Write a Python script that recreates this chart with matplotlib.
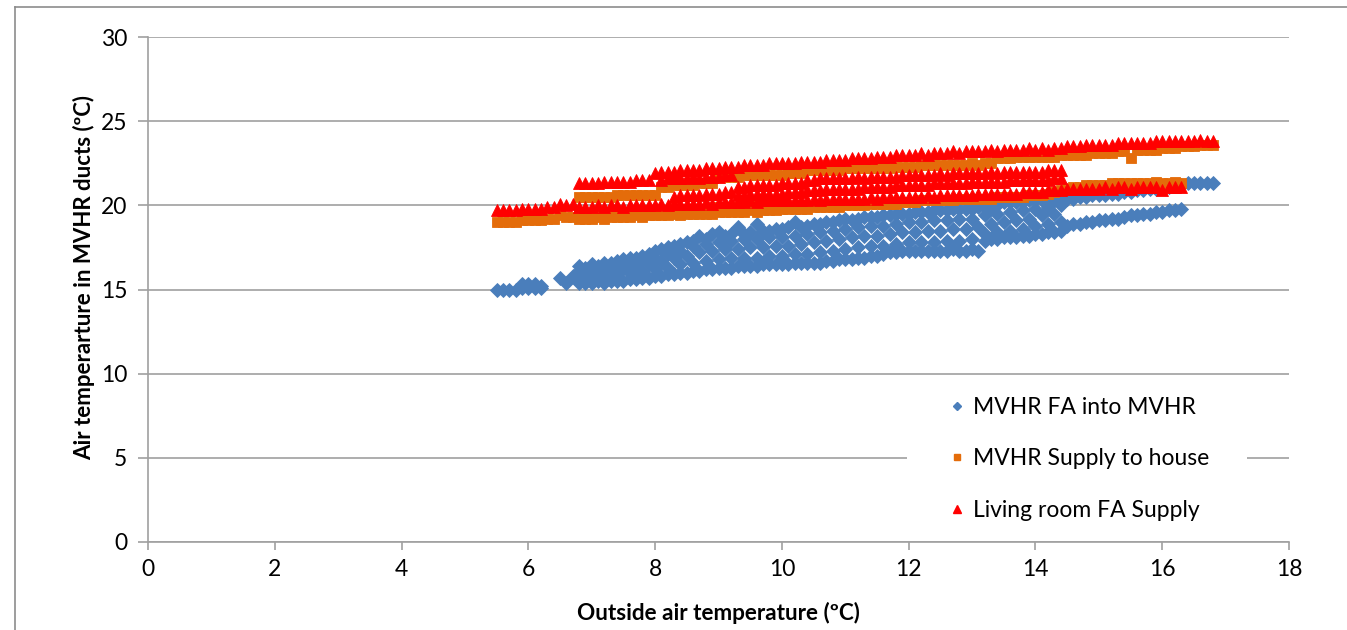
import matplotlib
matplotlib.use("Agg")
import matplotlib.pyplot as plt
from matplotlib.lines import Line2D
from matplotlib.patches import Rectangle

plt.rcParams['font.family'] = ['Lato', 'DejaVu Sans']

# ---------------- data ----------------
# outside air temperature columns, 0.1 degC logging resolution
outside_lo = [5.5, 5.6, 5.7, 5.8, 5.9, 6.0, 6.1, 6.2, 6.3, 6.4, 6.5, 6.6, 6.7]
outside_main = [6.8, 6.9, 7.0, 7.1, 7.2, 7.3, 7.4, 7.5, 7.6, 7.7,
                7.8, 7.9, 8.0, 8.1, 8.2, 8.3, 8.4, 8.5, 8.6, 8.7,
                8.8, 8.9, 9.0, 9.1, 9.2, 9.3, 9.4, 9.5, 9.6, 9.7,
                9.8, 9.9, 10.0, 10.1, 10.2, 10.3, 10.4, 10.5, 10.6, 10.7,
                10.8, 10.9, 11.0, 11.1, 11.2, 11.3, 11.4, 11.5, 11.6, 11.7,
                11.8, 11.9, 12.0, 12.1, 12.2, 12.3, 12.4, 12.5, 12.6, 12.7,
                12.8, 12.9, 13.0, 13.1, 13.2, 13.3, 13.4, 13.5, 13.6, 13.7,
                13.8, 13.9, 14.0, 14.1, 14.2, 14.3, 14.4, 14.5, 14.6, 14.7,
                14.8, 14.9, 15.0, 15.1, 15.2, 15.3, 15.4, 15.5, 15.6, 15.7,
                15.8, 15.9, 16.0, 16.1, 16.2, 16.3, 16.4, 16.5, 16.6, 16.7,
                16.8]

# --- MVHR FA into MVHR (blue) ---
fa_lo_x = [5.5, 5.6, 5.7, 5.8, 5.9, 6.0, 6.1, 6.2, 5.9, 6.0, 6.1, 6.2, 6.5, 6.6, 6.7]
fa_lo_y = [15.0, 15.0, 15.0, 15.0, 15.1, 15.1, 15.1, 15.1, 15.3, 15.3, 15.3, 15.2, 15.7, 15.4, 15.8]
fa_bottom = [15.4, 15.4, 15.4, 15.5, 15.4, 15.5, 15.5, 15.5, 15.6, 15.6,
             15.7, 15.7, 15.8, 15.8, 15.9, 15.9, 16.0, 16.0, 16.1, 16.1,
             16.2, 16.2, 16.3, 16.3, 16.3, 16.4, 16.4, 16.4, 16.4, 16.5,
             16.5, 16.5, 16.5, 16.5, 16.6, 16.6, 16.6, 16.6, 16.6, 16.7,
             16.7, 16.8, 16.8, 16.8, 16.9, 16.9, 17.0, 17.0, 17.1, 17.2,
             17.2, 17.3, 17.3, 17.3, 17.3, 17.3, 17.3, 17.3, 17.3, 17.4,
             17.3, 17.3, 17.4, 17.3, 17.9, 18.0, 18.0, 18.1, 18.1, 18.1,
             18.2, 18.2, 18.3, 18.3, 18.4, 18.4, 18.5, 18.8, 18.9, 18.9,
             19.0, 19.0, 19.1, 19.1, 19.2, 19.2, 19.3, 19.4, 19.4, 19.5,
             19.5, 19.6, 19.6, 19.7, 19.7, 19.8]
fa_top = [16.4, 16.3, 16.5, 16.4, 16.6, 16.6, 16.7, 16.8, 16.9, 16.9,
          17.0, 17.1, 17.3, 17.4, 17.5, 17.6, 17.7, 17.8, 17.9, 18.2,
          18.0, 18.3, 18.4, 18.2, 18.3, 18.7, 18.3, 18.4, 18.9, 18.5,
          18.5, 18.6, 18.6, 18.7, 19.0, 18.7, 18.8, 18.9, 18.9, 19.0,
          19.0, 19.1, 19.2, 19.1, 19.2, 19.3, 19.3, 19.3, 19.4, 19.4,
          19.5, 19.5, 19.5, 19.6, 19.6, 19.6, 19.7, 19.7, 19.7, 19.8,
          19.8, 19.8, 19.8, 19.9, 19.9, 19.9, 20.0, 20.2, 20.2, 20.2,
          20.2, 20.3, 20.3, 20.3, 20.3, 20.3, 20.3, 20.4, 20.4, 20.5,
          20.5, 20.6, 20.6, 20.6, 20.7, 20.7, 20.8, 20.8, 20.9, 20.9,
          21.0, 21.0, 21.1, 21.1, 21.2, 21.2, 21.3, 21.3, 21.3, 21.3, 21.3]
fa_row2 = [15.7, 15.8, 15.8, 15.9, 16.0, 16.1, 16.2, 16.3, 16.5, 16.6,
           16.7, 16.8, 16.9, 16.9, 16.9, 17.0, 17.0, 17.1, 17.1, 17.2,
           17.3, 17.4, 17.5, 17.6, 17.6, 17.7, 17.8, 17.8, 17.8, 17.9,
           17.9, 18.0, 18.3, 18.4, 18.5, 18.6, 18.8, 18.9, 19.0]
fa_row3 = [16.0, 16.1, 16.2, 16.3, 16.4, 16.5, 16.7, 16.9, 17.0, 17.2,
           17.3, 17.4, 17.4, 17.5, 17.5, 17.6, 17.6, 17.7, 17.8, 17.9,
           18.0, 18.1, 18.2, 18.2, 18.3, 18.4, 18.4, 18.5, 18.5, 18.6,
           18.6, 18.7, 18.9, 19.0, 19.1, 19.2, 19.4, 19.5]
fa_row4 = [16.1, 16.2, 16.3, 16.5, 16.6, 16.8, 16.9, 17.1, 17.3, 17.6,
           17.7, 17.8, 17.9, 18.0, 18.0, 18.1, 18.1, 18.2, 18.3, 18.4,
           18.5, 18.6, 18.7, 18.8, 18.8, 18.9, 19.0, 19.0, 19.1, 19.1,
           19.2, 19.2, 19.4, 19.5, 19.6, 19.7, 19.8, 19.9, 20.0]

# --- MVHR Supply to house (orange) ---
sup_lo = [19.0, 19.0, 19.0, 19.0, 19.1, 19.1, 19.1, 19.1, 19.2, 19.2, 19.4, 19.3, 19.3]
sup_upper = [20.5, 20.5, 20.5, 20.5, 20.5, 20.5, 20.6, 20.6, 20.6, 20.6,
             20.6, 20.6, 20.6, 21.1, 21.1, 21.2, 21.2, 21.2, 21.2, 21.3,
             21.3, 21.3, 21.7, 21.7, 21.7, 21.7, 21.8, 21.8, 21.8, 21.8,
             21.8, 21.8, 21.8, 21.9, 21.9, 21.9, 22.1, 22.1, 22.1, 22.1,
             22.1, 22.1, 22.2, 22.2, 22.2, 22.2, 22.2, 22.2, 22.2, 22.2,
             22.3, 22.3, 22.3, 22.3, 22.4, 22.4, 22.4, 22.4, 22.4, 22.4,
             22.4, 22.4, 22.5, 22.4, 22.5, 22.5, 22.8, 22.8, 22.8, 22.9,
             22.9, 22.9, 22.9, 22.9, 22.9, 22.9, 23.0, 23.0, 23.0, 23.0,
             23.0, 23.1, 23.1, 23.1, 23.1, 23.2, 23.2, 22.8, 23.3, 23.3,
             23.3, 23.3, 23.4, 23.4, 23.4, 23.5, 23.5, 23.5, 23.6, 23.6, 23.6]
sup_lower = [19.2, 19.2, 19.2, 19.3, 19.2, 19.3, 19.3, 19.3, 19.3, 19.4,
             19.3, 19.4, 19.4, 19.4, 19.4, 19.5, 19.4, 19.5, 19.5, 19.5,
             19.5, 19.5, 19.6, 19.6, 19.6, 19.6, 19.6, 19.7, 19.6, 19.7,
             19.7, 19.7, 19.8, 19.8, 19.8, 19.8, 19.8, 19.9, 19.9, 19.9,
             19.9, 19.9, 20.0, 20.0, 20.0, 20.0, 20.1, 20.1, 20.1, 20.1,
             20.1, 20.2, 20.2, 20.2, 20.3, 20.3, 20.3, 20.3, 20.3, 20.3,
             20.4, 20.4, 20.4, 20.4, 20.4, 20.4, 20.5, 20.5, 20.5, 20.5,
             20.5, 20.6, 20.6, 20.6, 20.7, 20.8, 20.9, 21.0, 21.1, 21.1,
             21.2, 21.2, 21.2, 21.2, 21.3, 21.3, 21.3, 21.3, 21.3, 21.3,
             21.3, 21.4, 21.3, 21.3, 21.4, 21.3]
sup_lower2 = [19.5, 19.5, 19.5, 19.6, 19.5, 19.6, 19.6, 19.6, 19.6, 19.7,
              19.6, 19.7, 19.7, 19.7, 19.7, 19.8, 19.7, 19.8, 19.8, 19.8,
              19.8, 19.8, 19.9, 19.9, 19.9, 19.9, 19.9, 20.0, 19.9, 20.0, 20.0]

# --- Living room FA Supply (red) ---
liv_lo = [19.7, 19.7, 19.7, 19.7, 19.8, 19.8, 19.8, 19.8, 19.9, 19.9, 20.1, 20.0, 20.1]
liv_top = [21.3, 21.3, 21.3, 21.3, 21.4, 21.4, 21.4, 21.4, 21.4, 21.5,
           21.5, 21.5, 21.9, 22.0, 22.0, 22.0, 22.1, 22.1, 22.1, 22.1,
           22.2, 22.2, 22.2, 22.3, 22.3, 22.3, 22.4, 22.4, 22.4, 22.4,
           22.5, 22.5, 22.5, 22.5, 22.5, 22.6, 22.6, 22.6, 22.6, 22.7,
           22.7, 22.7, 22.7, 22.8, 22.8, 22.8, 22.8, 22.9, 22.9, 22.9,
           23.0, 23.0, 23.0, 23.0, 23.1, 23.0, 23.1, 23.1, 23.1, 23.2,
           23.1, 23.2, 23.2, 23.2, 23.2, 23.3, 23.2, 23.3, 23.3, 23.3,
           23.3, 23.4, 23.3, 23.4, 23.3, 23.4, 23.4, 23.5, 23.5, 23.5,
           23.6, 23.6, 23.6, 23.6, 23.6, 23.7, 23.7, 23.7, 23.7, 23.7,
           23.7, 23.8, 23.8, 23.8, 23.8, 23.8, 23.8, 23.8, 23.9, 23.8, 23.8]
liv_low = [19.9, 19.9, 19.9, 20.0, 19.9, 20.0, 20.0, 19.9, 20.0, 20.0,
           20.0, 20.0, 20.0, 20.1, 20.0, 20.1, 20.1, 20.1, 20.1, 20.1,
           20.2, 20.1, 20.2, 20.2, 20.2, 20.2, 20.2, 20.3, 20.2, 20.3,
           20.3, 20.3, 20.3, 20.3, 20.3, 20.3, 20.3, 20.4, 20.3, 20.4,
           20.4, 20.4, 20.4, 20.4, 20.4, 20.4, 20.5, 20.4, 20.5, 20.5,
           20.5, 20.5, 20.5, 20.5, 20.5, 20.6, 20.5, 20.6, 20.6, 20.6,
           20.6, 20.6, 20.6, 20.7, 20.7, 20.7, 20.7, 20.7, 20.7, 20.7,
           20.8, 20.8, 20.8, 20.8, 20.9, 20.9, 20.9, 21.0, 21.0, 21.0,
           21.0, 21.0, 21.0, 21.1, 21.0, 21.1, 21.1, 21.0, 21.1, 21.1,
           21.1, 21.1, 20.9, 21.1, 21.1, 21.1]
liv_upper2 = [21.5, 21.6, 21.6, 21.6, 21.6, 21.7, 21.6, 21.7, 21.7, 21.7, 21.8, 21.8]
liv_lower2 = [20.5, 20.6, 20.6, 20.6, 20.6, 20.7, 20.7, 20.7, 20.8, 20.8]
liv_mid1 = [21.1, 21.1, 21.2, 21.2, 21.2, 21.2, 21.2, 21.3, 21.3, 21.3, 21.3,
            21.5, 21.5, 21.6, 21.6, 21.6, 21.6, 21.6, 21.6, 21.7, 21.6, 21.7,
            21.7, 21.7, 21.7, 21.7, 21.8,
            21.8, 21.8, 21.8, 21.8, 21.8, 21.9, 21.8, 21.9, 21.9, 21.9, 21.9,
            21.9, 21.9, 22.0, 21.9, 22.0, 22.0, 22.0, 22.0, 22.0, 22.0, 22.0,
            22.1, 22.1, 22.1]
liv_mid2 = [20.6, 20.6, 20.7, 20.7, 20.7, 20.7, 20.7, 20.7, 20.8, 20.8, 20.8,
            20.9, 20.9, 20.9, 21.0, 21.0, 21.0, 21.0, 21.0, 21.0, 21.1, 21.1,
            21.1, 21.1, 21.1, 21.2, 21.2,
            21.2, 21.2, 21.2, 21.2, 21.3, 21.3, 21.3, 21.3, 21.3, 21.3, 21.4,
            21.4, 21.4, 21.4, 21.4, 21.4, 21.5, 21.5, 21.5, 21.5, 21.5, 21.5,
            21.5, 21.6, 21.6]

x_ticks = [0, 2, 4, 6, 8, 10, 12, 14, 16, 18]
y_ticks = [0, 5, 10, 15, 20, 25, 30]
series_names = ["MVHR FA into MVHR", "MVHR Supply to house", "Living room FA Supply"]

# ---------------- drawing ----------------
BLUE = "#4A7EBB"
ORANGE = "#E46C0A"
RED = "#FF0000"
GRID = "#A0A0A0"

W, H = 1347, 630
fig = plt.figure(figsize=(W / 100, H / 100), dpi=100)
ax = fig.add_axes([148 / W, 1 - 542 / H, (1289 - 148) / W, (542 - 37) / H])


def track(start_idx, ys, step=1):
    xs = outside_main[start_idx::step][:len(ys)]
    return xs, ys


def draw(xs, ys, marker, color, ms, z):
    ax.plot(xs, ys, linestyle="none", marker=marker, color=color,
            markeredgecolor=color, markersize=ms, markeredgewidth=0.6,
            zorder=z, clip_on=False)


# blue diamonds
bms = 7.2
draw(fa_lo_x, fa_lo_y, "D", BLUE, bms, 3)
draw(*track(0, fa_bottom), "D", BLUE, bms, 3)
draw(*track(0, fa_top), "D", BLUE, bms, 3)
draw(*track(0, fa_row2, 2), "D", BLUE, bms, 3)
draw(*track(1, fa_row3, 2), "D", BLUE, bms, 3)
draw(*track(0, fa_row4, 2), "D", BLUE, bms, 3)

# orange squares
oms = 6.8
draw(outside_lo, sup_lo, "s", ORANGE, oms, 4)
draw(*track(0, sup_lower), "s", ORANGE, oms, 4)
draw(*track(0, sup_lower2), "s", ORANGE, oms, 4)
draw(*track(0, sup_upper), "s", ORANGE, oms, 4)

# red triangles
rms = 8.6
draw(outside_lo, liv_lo, "^", RED, rms, 5)
draw(*track(0, liv_low), "^", RED, rms, 5)
draw(*track(13, liv_upper2), "^", RED, rms, 5)
draw(*track(15, liv_lower2), "^", RED, rms, 5)
draw(*track(25, liv_mid2), "^", RED, rms, 5)
draw(*track(25, liv_mid1), "^", RED, rms, 5)
draw(*track(0, liv_top), "^", RED, rms, 5)

ax.set_xlim(0, 18)
ax.set_ylim(0, 30)
ax.set_xticks(x_ticks)
ax.set_yticks(y_ticks)
ax.set_xticklabels([str(v) for v in x_ticks])
ax.set_yticklabels([str(v) for v in y_ticks])
ax.yaxis.grid(True, color=GRID, linewidth=1.2)
ax.set_axisbelow(True)
for s in ("top", "right"):
    ax.spines[s].set_visible(False)
for s in ("left", "bottom"):
    ax.spines[s].set_color(GRID)
    ax.spines[s].set_linewidth(1.2)
ax.tick_params(axis="both", direction="out", color=GRID, width=1.2,
               labelsize=16.5, labelcolor="black")
ax.tick_params(axis="x", length=6, pad=6)
ax.tick_params(axis="y", length=7, pad=8)

fig.text(718 / W, 1 - 613 / H, "Outside air temperature (ºC)", ha="center",
         va="center", fontsize=16.2, fontweight="bold")
fig.text(84 / W, 1 - 277 / H, "Air temperarture in MVHR ducts (ºC)", ha="center",
         va="center", rotation=90, fontsize=16, fontweight="bold")

# white legend area hiding the gridline, as in the original
ax.add_patch(Rectangle(((907 - 148) / 1141, (542 - 528) / 505),
                       (1247 - 907) / 1141, (528 - 385) / 505,
                       transform=ax.transAxes, facecolor="white",
                       edgecolor="none", zorder=6))

handles = [
    Line2D([], [], linestyle="none", marker="D", color=BLUE, markersize=4.5),
    Line2D([], [], linestyle="none", marker="s", color=ORANGE, markersize=4.5),
    Line2D([], [], linestyle="none", marker="^", color=RED, markersize=5.5),
]
leg = ax.legend(handles, series_names, loc="upper left",
                bbox_to_anchor=((948 - 148) / 1141, (542 - 397) / 505),
                frameon=False, fontsize=16.5, labelspacing=1.33,
                handlelength=0.8, handletextpad=0.3, borderpad=0,
                borderaxespad=0)
leg.set_zorder(10)

# outer chart-area border
fig.add_artist(Line2D([15 / W, 15 / W], [0, 1 - 7 / H], transform=fig.transFigure,
                      color="#8C8C8C", linewidth=1.2))
fig.add_artist(Line2D([15 / W, 1], [1 - 7 / H, 1 - 7 / H], transform=fig.transFigure,
                      color="#8C8C8C", linewidth=1.2))

fig.savefig("out.png", dpi=100)
